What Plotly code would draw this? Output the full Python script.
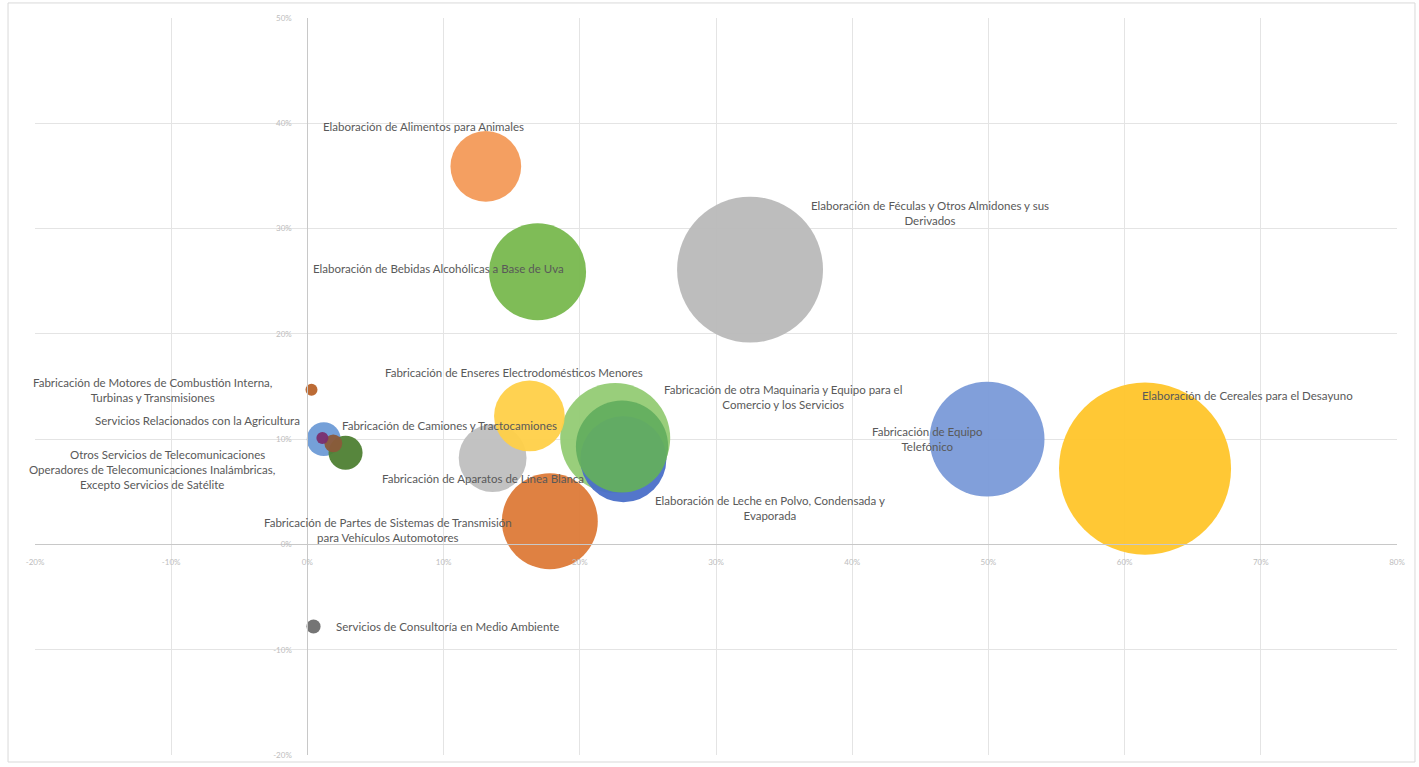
import plotly.graph_objects as go

# Sector bubbles: x and y in percent, size as relative bubble area
sectores = [
    "Fabricación de otra Maquinaria y Equipo para el Comercio y los Servicios",
    "Elaboración de Leche en Polvo, Condensada y Evaporada",
    "",
    "Elaboración de Alimentos para Animales",
    "Elaboración de Bebidas Alcohólicas a Base de Uva",
    "Elaboración de Féculas y Otros Almidones y sus Derivados",
    "Elaboración de Cereales para el Desayuno",
    "Fabricación de Equipo Telefónico",
    "Fabricación de Aparatos de Línea Blanca",
    "Fabricación de Enseres Electrodomésticos Menores",
    "Fabricación de Partes de Sistemas de Transmisión para Vehículos Automotores",
    "Servicios Relacionados con la Agricultura",
    "Operadores de Telecomunicaciones Inalámbricas, Excepto Servicios de Satélite",
    "Fabricación de Camiones y Tractocamiones",
    "Otros Servicios de Telecomunicaciones",
    "Fabricación de Motores de Combustión Interna, Turbinas y Transmisiones",
    "Servicios de Consultoría en Medio Ambiente",
]
crecimiento_x = [22.6, 23.2, 23.1, 13.1, 16.9, 32.5, 61.5, 49.9, 13.6, 16.3, 17.8, 1.2, 2.8, 1.9, 1.1, 0.3, 0.45]
crecimiento_y = [10.1, 8.1, 9.3, 35.9, 25.9, 26.1, 7.2, 10.0, 8.2, 12.2, 2.2, 10.0, 8.7, 9.6, 10.1, 14.7, -7.8]
tamano = [121, 74, 85, 50, 94, 213, 296, 132, 46, 50, 92, 11.5, 11.6, 3.2, 1.4, 0.5, 2.0]
colores = ["#93CB74", "#4A6FC8", "#63AE5F", "#F39A59", "#78B84E", "#B9B9B9", "#FFC52A",
           "#7A9AD8", "#BFBFBF", "#FFD048", "#DD7A38", "#6E9BD6", "#4E7F33", "#8B5A3A",
           "#7A2E6E", "#B8632A", "#6E6E6E"]

# Data labels: text and anchor position (percent coordinates)
etiquetas = [
    ("Fabricación de otra Maquinaria y Equipo para el<br>Comercio y los Servicios", 34.9, 14.0),
    ("Elaboración de Leche en Polvo, Condensada y<br>Evaporada", 34.0, 3.5),
    ("Elaboración de Alimentos para Animales", 8.5, 39.7),
    ("Elaboración de Bebidas Alcohólicas a Base de Uva", 9.6, 26.2),
    ("Elaboración de Féculas y Otros Almidones y sus<br>Derivados", 45.7, 31.5),
    ("Elaboración de Cereales para el Desayuno", 69.0, 14.15),
    ("Fabricación de Equipo<br>Telefónico", 45.5, 10.0),
    ("Fabricación de Aparatos de Línea Blanca", 12.9, 6.3),
    ("Fabricación de Enseres Electrodomésticos Menores", 15.2, 16.3),
    ("Fabricación de Partes de Sistemas de Transmisión<br>para Vehículos Automotores", 5.9, 1.4),
    ("Servicios Relacionados con la Agricultura", -8.1, 11.8),
    ("Operadores de Telecomunicaciones Inalámbricas,<br>Excepto Servicios de Satélite", -11.4, 6.4),
    ("Fabricación de Camiones y Tractocamiones", 10.4, 11.3),
    ("Otros Servicios de Telecomunicaciones", -10.3, 8.5),
    ("Fabricación de Motores de Combustión Interna,<br>Turbinas y Transmisiones", -11.4, 14.7),
    ("Servicios de Consultoría en Medio Ambiente", 10.3, -7.8),
]

x_ticks = [-20, -10, 0, 10, 20, 30, 40, 50, 60, 70, 80]
y_ticks = [-20, -10, 0, 10, 20, 30, 40, 50]

fig = go.Figure()
fig.add_trace(go.Scatter(
    x=crecimiento_x, y=crecimiento_y, mode="markers",
    text=sectores, hoverinfo="text",
    marker=dict(size=tamano, sizemode="area", sizeref=0.02, sizemin=6,
                color=colores, opacity=0.95, line=dict(width=0)),
    showlegend=False,
))

for texto, tx, ty in etiquetas:
    fig.add_annotation(x=tx, y=ty, text=texto, showarrow=False, xref="x", yref="y",
                       font=dict(family="Lato", size=11.5, color="#595959"), align="center")

fig.update_layout(
    width=1419, height=767,
    margin=dict(l=35, r=22, t=18, b=12, autoexpand=False),
    paper_bgcolor="white", plot_bgcolor="white",
    xaxis=dict(range=[-20, 80], tickvals=x_ticks, ticktext=[f"{v}%" for v in x_ticks],
               showgrid=True, gridcolor="#E4E4E4", gridwidth=1, zeroline=False,
               showline=True, linecolor="#C8C8C8", anchor="free", position=20 / 70,
               ticks="", ticklabelstandoff=10, automargin=False,
               tickfont=dict(family="Lato", size=8, color="#BDBDBD")),
    yaxis=dict(range=[-20, 50], tickvals=y_ticks, ticktext=[f"{v}%" for v in y_ticks],
               showgrid=True, gridcolor="#E4E4E4", gridwidth=1, zeroline=False,
               showline=True, linecolor="#C8C8C8", anchor="free", position=0.2,
               ticks="", ticklabelstandoff=14, automargin=False,
               tickfont=dict(family="Lato", size=8, color="#BDBDBD")),
    shapes=[dict(type="rect", xref="paper", yref="paper", x0=-0.0198, x1=1.0132,
                 y0=-0.0095, y1=1.0204, line=dict(color="#D9D9D9", width=1),
                 fillcolor="rgba(0,0,0,0)", layer="below")],
)

fig.write_html("out.html")
